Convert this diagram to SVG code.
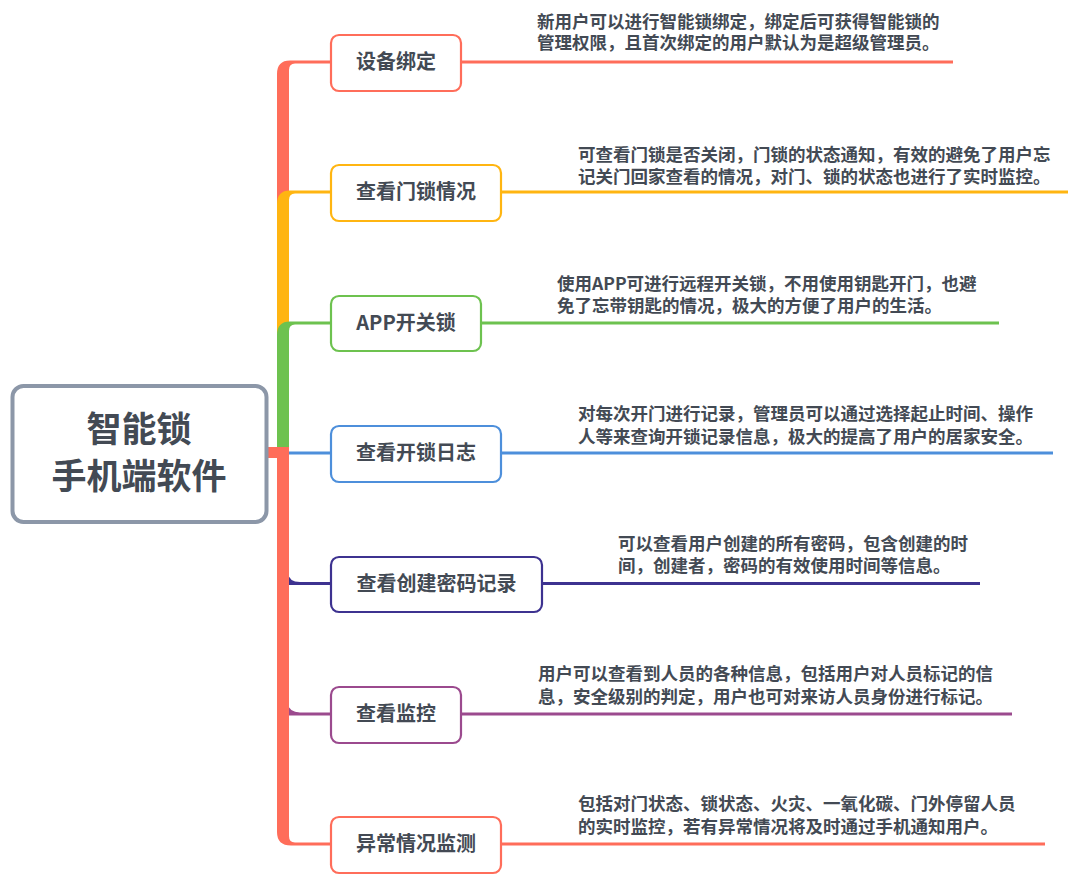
<svg xmlns="http://www.w3.org/2000/svg" width="1085" height="881" viewBox="0 0 1085 881">
<style>
.node{fill:#fff;stroke-width:2.2}
.lbl{font-family:"Noto Sans CJK SC","Noto Sans",sans-serif;font-weight:bold;font-size:20px;fill:#434A54;text-anchor:middle}
.desc{font-family:"Noto Sans CJK SC","Noto Sans",sans-serif;font-weight:bold;font-size:17.5px;fill:#434A54}
.root{font-family:"Noto Sans CJK SC","Noto Sans",sans-serif;font-weight:bold;font-size:35px;fill:#434A54;text-anchor:middle}
.ln{fill:none;stroke-width:3}
</style>
<rect width="1085" height="881" fill="#fff"/>
<g id="connectors">
  <!-- branch 1 red -->
  <path d="M277 455 L277 74 Q277 60.5 290 60.5 L331 60.5 L331 63.5 L295 63.5 Q289 63.5 289 70 L289 455 Z" fill="#FF6D5A"/>
  <line class="ln" x1="461" y1="62" x2="953" y2="62" stroke="#FF6D5A"/>
  <!-- branch 2 orange -->
  <path d="M277 455 L277 204 Q277 190.5 290 190.5 L331 190.5 L331 193.5 L295 193.5 Q289 193.5 289 200 L289 455 Z" fill="#FFB511"/>
  <line class="ln" x1="501" y1="192" x2="1068" y2="192" stroke="#FFB511"/>
  <!-- branch 3 green -->
  <path d="M277 455 L277 335 Q277 321.5 290 321.5 L331 321.5 L331 324.5 L295 324.5 Q289 324.5 289 331 L289 455 Z" fill="#6DC24F"/>
  <line class="ln" x1="481" y1="323" x2="999" y2="323" stroke="#6DC24F"/>
  <!-- branch 4 blue -->
  <line class="ln" x1="286" y1="453" x2="331" y2="453" stroke="#4D8FDB"/>
  <line class="ln" x1="501" y1="453" x2="1053" y2="453" stroke="#4D8FDB"/>
  <!-- branch 5 dark purple -->
  <path d="M287 572 Q289 582 300 582 L331 582 L331 585 L287 585 Z" fill="#3D3290"/>
  <line class="ln" x1="542" y1="583.5" x2="980" y2="583.5" stroke="#3D3290"/>
  <!-- branch 6 purple -->
  <path d="M287 702 Q289 712.5 300 712.5 L331 712.5 L331 715.5 L287 715.5 Z" fill="#9B4A8E"/>
  <line class="ln" x1="461" y1="714" x2="1012" y2="714" stroke="#9B4A8E"/>
  <!-- branch 7 red (bottom) -->
  <path d="M277 447 L277 832 Q277 845.5 291 845.5 L331 845.5 L331 842.5 L295 842.5 Q289 842.5 289 836 L289 447 Z" fill="#FF6D5A"/>
  <rect x="268" y="447" width="21" height="11" fill="#FF6D5A"/>
  <line class="ln" x1="501" y1="844" x2="1045" y2="844" stroke="#FF6D5A"/>
</g>
<g id="root">
  <rect x="12.5" y="386" width="254" height="136" rx="11" fill="#fff" stroke="#8C97A8" stroke-width="4"/>
  <text class="root" x="139" y="442">智能锁</text>
  <text class="root" x="139" y="489">手机端软件</text>
</g>
<g id="n1">
  <rect class="node" x="331" y="35" width="130" height="56" rx="8" stroke="#FF6D5A"/>
  <text class="lbl" x="396" y="69">设备绑定</text>
  <text class="desc" x="537" y="27.5">新用户可以进行智能锁绑定，绑定后可获得智能锁的</text>
  <text class="desc" x="537" y="49">管理权限，且首次绑定的用户默认为是超级管理员。</text>
</g>
<g id="n2">
  <rect class="node" x="331" y="165" width="170" height="56" rx="8" stroke="#FFB511"/>
  <text class="lbl" x="416" y="199">查看门锁情况</text>
  <text class="desc" x="578" y="161">可查看门锁是否关闭，门锁的状态通知，有效的避免了用户忘</text>
  <text class="desc" x="578" y="183">记关门回家查看的情况，对门、锁的状态也进行了实时监控。</text>
</g>
<g id="n3">
  <rect class="node" x="331" y="296" width="150" height="55" rx="8" stroke="#6DC24F"/>
  <text class="lbl" x="406" y="330">APP开关锁</text>
  <text class="desc" x="557" y="290">使用APP可进行远程开关锁，不用使用钥匙开门，也避</text>
  <text class="desc" x="557" y="311.5">免了忘带钥匙的情况，极大的方便了用户的生活。</text>
</g>
<g id="n4">
  <rect class="node" x="331" y="426" width="170" height="56" rx="8" stroke="#4D8FDB"/>
  <text class="lbl" x="416" y="460">查看开锁日志</text>
  <text class="desc" x="578" y="420">对每次开门进行记录，管理员可以通过选择起止时间、操作</text>
  <text class="desc" x="578" y="443">人等来查询开锁记录信息，极大的提高了用户的居家安全。</text>
</g>
<g id="n5">
  <rect class="node" x="331" y="557" width="211" height="55" rx="8" stroke="#3D3290"/>
  <text class="lbl" x="436.5" y="591">查看创建密码记录</text>
  <text class="desc" x="618" y="550">可以查看用户创建的所有密码，包含创建的时</text>
  <text class="desc" x="618" y="572">间，创建者，密码的有效使用时间等信息。</text>
</g>
<g id="n6">
  <rect class="node" x="331" y="687" width="130" height="56" rx="8" stroke="#9B4A8E"/>
  <text class="lbl" x="396" y="721">查看监控</text>
  <text class="desc" x="538" y="680">用户可以查看到人员的各种信息，包括用户对人员标记的信</text>
  <text class="desc" x="538" y="703">息，安全级别的判定，用户也可对来访人员身份进行标记。</text>
</g>
<g id="n7">
  <rect class="node" x="331" y="817" width="170" height="56" rx="8" stroke="#FF6D5A"/>
  <text class="lbl" x="416" y="851">异常情况监测</text>
  <text class="desc" x="578" y="810">包括对门状态、锁状态、火灾、一氧化碳、门外停留人员</text>
  <text class="desc" x="578" y="833">的实时监控，若有异常情况将及时通过手机通知用户。</text>
</g>
</svg>
